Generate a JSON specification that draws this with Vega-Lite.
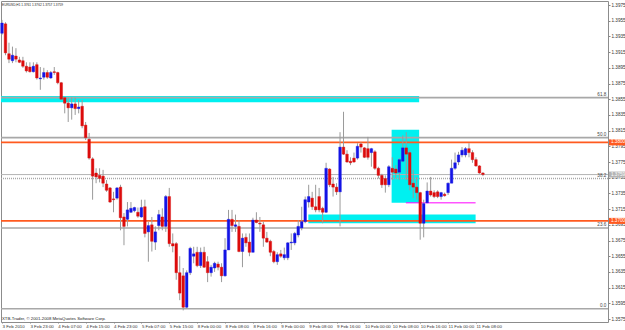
{
  "$schema": "https://vega.github.io/schema/vega-lite/v6.json",
  "width": 607,
  "height": 321,
  "autosize": {"type": "none"},
  "padding": {"left": 1, "top": 1, "right": 17, "bottom": 8},
  "background": "white",
  "config": {
    "view": {"stroke": "#8c8c8c", "strokeWidth": 1},
    "axis": {"labelFont": "Liberation Sans", "grid": false, "domain": false, "labelOverlap": false, "labelFlush": false, "labelBound": false, "tickCount": 1000},
    "scale": {"continuousPadding": 0},
    "text": {"font": "Liberation Sans"}
  },
  "datasets": {
    "candles": [
      {"i":0,"o":1.3939,"h":1.3956,"l":1.3937,"c":1.3952},
      {"i":1,"o":1.3951,"h":1.3953,"l":1.3911,"c":1.3914},
      {"i":2,"o":1.3913,"h":1.3927,"l":1.3901,"c":1.3906},
      {"i":3,"o":1.3904,"h":1.3922,"l":1.3901,"c":1.3911},
      {"i":4,"o":1.3910,"h":1.3920,"l":1.3902,"c":1.3906},
      {"i":5,"o":1.3905,"h":1.3909,"l":1.3901,"c":1.3902},
      {"i":6,"o":1.3904,"h":1.3909,"l":1.3895,"c":1.3897},
      {"i":7,"o":1.3897,"h":1.3902,"l":1.3889,"c":1.3891},
      {"i":8,"o":1.3896,"h":1.3902,"l":1.3889,"c":1.3890},
      {"i":9,"o":1.3890,"h":1.3902,"l":1.3889,"c":1.3897},
      {"i":10,"o":1.3899,"h":1.3902,"l":1.3880,"c":1.3882},
      {"i":11,"o":1.3881,"h":1.3896,"l":1.3867,"c":1.3882},
      {"i":12,"o":1.3883,"h":1.3895,"l":1.3880,"c":1.3889},
      {"i":13,"o":1.3889,"h":1.3892,"l":1.3881,"c":1.3883},
      {"i":14,"o":1.3882,"h":1.3891,"l":1.3881,"c":1.3889},
      {"i":15,"o":1.3890,"h":1.3896,"l":1.3886,"c":1.3889},
      {"i":16,"o":1.3889,"h":1.3890,"l":1.3874,"c":1.3876},
      {"i":17,"o":1.3876,"h":1.3877,"l":1.3854,"c":1.3855},
      {"i":18,"o":1.3857,"h":1.3858,"l":1.3837,"c":1.3850},
      {"i":19,"o":1.3850,"h":1.3857,"l":1.3826,"c":1.3844},
      {"i":20,"o":1.3844,"h":1.3857,"l":1.3829,"c":1.3849},
      {"i":21,"o":1.3849,"h":1.3857,"l":1.3835,"c":1.3843},
      {"i":22,"o":1.3843,"h":1.3854,"l":1.3837,"c":1.3845},
      {"i":23,"o":1.3846,"h":1.3854,"l":1.3818,"c":1.3821},
      {"i":24,"o":1.3822,"h":1.3826,"l":1.3803,"c":1.3806},
      {"i":25,"o":1.3804,"h":1.3812,"l":1.3778,"c":1.3780},
      {"i":26,"o":1.3779,"h":1.3781,"l":1.3727,"c":1.3757},
      {"i":27,"o":1.3761,"h":1.3767,"l":1.3748,"c":1.3756},
      {"i":28,"o":1.3758,"h":1.3767,"l":1.3749,"c":1.3754},
      {"i":29,"o":1.3757,"h":1.3765,"l":1.3743,"c":1.3748},
      {"i":30,"o":1.3747,"h":1.3752,"l":1.3737,"c":1.3739},
      {"i":31,"o":1.3742,"h":1.3743,"l":1.3723,"c":1.3724},
      {"i":32,"o":1.3728,"h":1.3737,"l":1.3711,"c":1.3727},
      {"i":33,"o":1.3729,"h":1.3743,"l":1.3727,"c":1.3742},
      {"i":34,"o":1.3743,"h":1.3746,"l":1.3688,"c":1.3704},
      {"i":35,"o":1.3705,"h":1.3710,"l":1.3669,"c":1.3693},
      {"i":36,"o":1.3702,"h":1.3724,"l":1.3693,"c":1.3714},
      {"i":37,"o":1.3711,"h":1.3724,"l":1.3710,"c":1.3716},
      {"i":38,"o":1.3713,"h":1.3718,"l":1.3711,"c":1.3717},
      {"i":39,"o":1.3711,"h":1.3717,"l":1.3704,"c":1.3706},
      {"i":40,"o":1.3705,"h":1.3727,"l":1.3704,"c":1.3717},
      {"i":41,"o":1.3718,"h":1.3727,"l":1.3679,"c":1.3684},
      {"i":42,"o":1.3686,"h":1.3699,"l":1.3648,"c":1.3694},
      {"i":43,"o":1.3695,"h":1.3705,"l":1.3661,"c":1.3674},
      {"i":44,"o":1.3673,"h":1.3693,"l":1.3663,"c":1.3686},
      {"i":45,"o":1.3694,"h":1.3714,"l":1.3688,"c":1.3708},
      {"i":46,"o":1.3705,"h":1.3716,"l":1.3688,"c":1.3693},
      {"i":47,"o":1.3693,"h":1.3733,"l":1.3686,"c":1.3731},
      {"i":48,"o":1.3731,"h":1.3742,"l":1.3667,"c":1.3671},
      {"i":49,"o":1.3671,"h":1.3684,"l":1.3660,"c":1.3668},
      {"i":50,"o":1.3671,"h":1.3673,"l":1.3625,"c":1.3634},
      {"i":51,"o":1.3634,"h":1.3655,"l":1.3599,"c":1.3608},
      {"i":52,"o":1.3630,"h":1.3640,"l":1.3586,"c":1.3590},
      {"i":53,"o":1.3590,"h":1.3637,"l":1.3588,"c":1.3634},
      {"i":54,"o":1.3634,"h":1.3667,"l":1.3631,"c":1.3665},
      {"i":55,"o":1.3655,"h":1.3667,"l":1.3646,"c":1.3658},
      {"i":56,"o":1.3660,"h":1.3667,"l":1.3641,"c":1.3643},
      {"i":57,"o":1.3643,"h":1.3666,"l":1.3640,"c":1.3660},
      {"i":58,"o":1.3660,"h":1.3667,"l":1.3640,"c":1.3641},
      {"i":59,"o":1.3648,"h":1.3655,"l":1.3622,"c":1.3634},
      {"i":60,"o":1.3634,"h":1.3644,"l":1.3629,"c":1.3641},
      {"i":61,"o":1.3640,"h":1.3648,"l":1.3635,"c":1.3646},
      {"i":62,"o":1.3645,"h":1.3648,"l":1.3637,"c":1.3641},
      {"i":63,"o":1.3641,"h":1.3646,"l":1.3622,"c":1.3630},
      {"i":64,"o":1.3630,"h":1.3678,"l":1.3629,"c":1.3663},
      {"i":65,"o":1.3663,"h":1.3714,"l":1.3663,"c":1.3702},
      {"i":66,"o":1.3702,"h":1.3714,"l":1.3686,"c":1.3694},
      {"i":67,"o":1.3693,"h":1.3708,"l":1.3686,"c":1.3695},
      {"i":68,"o":1.3693,"h":1.3701,"l":1.3660,"c":1.3661},
      {"i":69,"o":1.3661,"h":1.3684,"l":1.3641,"c":1.3678},
      {"i":70,"o":1.3679,"h":1.3684,"l":1.3667,"c":1.3672},
      {"i":71,"o":1.3673,"h":1.3684,"l":1.3655,"c":1.3660},
      {"i":72,"o":1.3660,"h":1.3704,"l":1.3660,"c":1.3701},
      {"i":73,"o":1.3701,"h":1.3711,"l":1.3697,"c":1.3698},
      {"i":74,"o":1.3697,"h":1.3705,"l":1.3686,"c":1.3696},
      {"i":75,"o":1.3695,"h":1.3699,"l":1.3667,"c":1.3678},
      {"i":76,"o":1.3678,"h":1.3686,"l":1.3672,"c":1.3673},
      {"i":77,"o":1.3674,"h":1.3676,"l":1.3655,"c":1.3660},
      {"i":78,"o":1.3661,"h":1.3663,"l":1.3646,"c":1.3648},
      {"i":79,"o":1.3648,"h":1.3660,"l":1.3644,"c":1.3657},
      {"i":80,"o":1.3658,"h":1.3663,"l":1.3653,"c":1.3655},
      {"i":81,"o":1.3653,"h":1.3666,"l":1.3650,"c":1.3657},
      {"i":82,"o":1.3653,"h":1.3673,"l":1.3650,"c":1.3672},
      {"i":83,"o":1.3672,"h":1.3684,"l":1.3663,"c":1.3673},
      {"i":84,"o":1.3672,"h":1.3686,"l":1.3669,"c":1.3684},
      {"i":85,"o":1.3682,"h":1.3701,"l":1.3679,"c":1.3693},
      {"i":86,"o":1.3691,"h":1.3718,"l":1.3688,"c":1.3699},
      {"i":87,"o":1.3699,"h":1.3731,"l":1.3697,"c":1.3727},
      {"i":88,"o":1.3724,"h":1.3746,"l":1.3717,"c":1.3731},
      {"i":89,"o":1.3729,"h":1.3737,"l":1.3714,"c":1.3718},
      {"i":90,"o":1.3718,"h":1.3746,"l":1.3711,"c":1.3714},
      {"i":91,"o":1.3731,"h":1.3742,"l":1.3711,"c":1.3714},
      {"i":92,"o":1.3716,"h":1.3718,"l":1.3697,"c":1.3711},
      {"i":93,"o":1.3711,"h":1.3774,"l":1.3710,"c":1.3767},
      {"i":94,"o":1.3766,"h":1.3767,"l":1.3743,"c":1.3746},
      {"i":95,"o":1.3747,"h":1.3756,"l":1.3731,"c":1.3743},
      {"i":96,"o":1.3743,"h":1.3748,"l":1.3733,"c":1.3737},
      {"i":97,"o":1.3737,"h":1.3813,"l":1.3693,"c":1.3794},
      {"i":98,"o":1.3794,"h":1.3839,"l":1.3784,"c":1.3785},
      {"i":99,"o":1.3785,"h":1.3790,"l":1.3774,"c":1.3775},
      {"i":100,"o":1.3776,"h":1.3781,"l":1.3771,"c":1.3774},
      {"i":101,"o":1.3780,"h":1.3787,"l":1.3774,"c":1.3775},
      {"i":102,"o":1.3780,"h":1.3799,"l":1.3778,"c":1.3795},
      {"i":103,"o":1.3798,"h":1.3800,"l":1.3787,"c":1.3794},
      {"i":104,"o":1.3793,"h":1.3794,"l":1.3780,"c":1.3781},
      {"i":105,"o":1.3792,"h":1.3807,"l":1.3778,"c":1.3781},
      {"i":106,"o":1.3787,"h":1.3793,"l":1.3769,"c":1.3792},
      {"i":107,"o":1.3788,"h":1.3790,"l":1.3765,"c":1.3767},
      {"i":108,"o":1.3767,"h":1.3769,"l":1.3754,"c":1.3758},
      {"i":109,"o":1.3758,"h":1.3760,"l":1.3742,"c":1.3746},
      {"i":110,"o":1.3754,"h":1.3758,"l":1.3736,"c":1.3746},
      {"i":111,"o":1.3746,"h":1.3771,"l":1.3743,"c":1.3769},
      {"i":112,"o":1.3767,"h":1.3781,"l":1.3752,"c":1.3762},
      {"i":113,"o":1.3766,"h":1.3771,"l":1.3754,"c":1.3761},
      {"i":114,"o":1.3762,"h":1.3780,"l":1.3752,"c":1.3778},
      {"i":115,"o":1.3776,"h":1.3809,"l":1.3775,"c":1.3793},
      {"i":116,"o":1.3793,"h":1.3813,"l":1.3752,"c":1.3785},
      {"i":117,"o":1.3787,"h":1.3790,"l":1.3739,"c":1.3746},
      {"i":118,"o":1.3748,"h":1.3765,"l":1.3729,"c":1.3743},
      {"i":119,"o":1.3743,"h":1.3756,"l":1.3727,"c":1.3736},
      {"i":120,"o":1.3736,"h":1.3737,"l":1.3676,"c":1.3697},
      {"i":121,"o":1.3697,"h":1.3727,"l":1.3679,"c":1.3722},
      {"i":122,"o":1.3723,"h":1.3749,"l":1.3723,"c":1.3738},
      {"i":123,"o":1.3738,"h":1.3756,"l":1.3731,"c":1.3733},
      {"i":124,"o":1.3736,"h":1.3739,"l":1.3729,"c":1.3731},
      {"i":125,"o":1.3737,"h":1.3739,"l":1.3729,"c":1.3731},
      {"i":126,"o":1.3731,"h":1.3737,"l":1.3727,"c":1.3736},
      {"i":127,"o":1.3734,"h":1.3736,"l":1.3731,"c":1.3732},
      {"i":128,"o":1.3736,"h":1.3749,"l":1.3733,"c":1.3748},
      {"i":129,"o":1.3748,"h":1.3778,"l":1.3748,"c":1.3767},
      {"i":130,"o":1.3767,"h":1.3787,"l":1.3765,"c":1.3774},
      {"i":131,"o":1.3775,"h":1.3788,"l":1.3771,"c":1.3784},
      {"i":132,"o":1.3784,"h":1.3794,"l":1.3781,"c":1.3790},
      {"i":133,"o":1.3784,"h":1.3794,"l":1.3781,"c":1.3792},
      {"i":134,"o":1.3792,"h":1.3799,"l":1.3781,"c":1.3787},
      {"i":135,"o":1.3787,"h":1.3790,"l":1.3774,"c":1.3778},
      {"i":136,"o":1.3778,"h":1.3781,"l":1.3769,"c":1.3770},
      {"i":137,"o":1.3770,"h":1.3771,"l":1.3760,"c":1.3761},
      {"i":138,"o":1.3761,"h":1.3762,"l":1.3757,"c":1.3759}
    ],
    "zones": [
      {"x1":-0.287,"x2":119.7,"p1":1.3859,"p2":1.3851},
      {"x1":111.8,"x2":119.7,"p1":1.3816,"p2":1.3723},
      {"x1":87.9,"x2":135.9,"p1":1.3708,"p2":1.3697}
    ],
    "fibo": [
      {"level":"61.8","p":1.3857,"dash":"solid"},
      {"level":"50.0","p":1.3806,"dash":"solid"},
      {"level":"38.2","p":1.3754,"dash":"dot"},
      {"level":"23.6","p":1.3691,"dash":"solid"},
      {"level":"0.0","p":1.3588,"dash":"solid"}
    ],
    "levels": [
      {"p":1.3800,"t":"1.3800","kind":"line"},
      {"p":1.3700,"t":"1.3700","kind":"line"},
      {"p":1.3759,"t":"1.3759","kind":"bid"}
    ],
    "support": [
      {"x1":115.9,"x2":135.9,"p":1.3723}
    ],
    "notes": [
      {"t":"EURUSD,H1  1.3761 1.3762 1.3757 1.3759","where":"top"},
      {"t":"XTB-Trader, © 2001-2008 MetaQuotes Software Corp.","where":"bottom"}
    ]
  },
  "layer": [
    {
      "data": {"name": "zones"},
      "mark": {"type": "rect", "color": "#00f0f0", "clip": true},
      "encoding": {
        "x": {"field": "x1", "type": "quantitative", "title": null,
          "scale": {"domain": [-0.287, 173.89], "nice": false, "zero": false, "padding": 0},
          "axis": {
            "values": [0,8,16,24,32,40,48,56,64,72,80,88,96,104,112,120,128,136],
            "tickCount": 1000,
            "labelExpr": "['3 Feb 2010','3 Feb 23:00','4 Feb 07:00','4 Feb 15:00','4 Feb 23:00','5 Feb 07:00','5 Feb 15:00','8 Feb 00:00','8 Feb 08:00','8 Feb 16:00','9 Feb 00:00','9 Feb 08:00','9 Feb 16:00','10 Feb 00:00','10 Feb 08:00','10 Feb 16:00','11 Feb 00:00','11 Feb 08:00'][round(datum.value/8)]",
            "labelAlign": "left", "labelFontSize": 4.4, "labelColor": "#333333",
            "tickSize": 1, "tickColor": "#888888", "labelPadding": 1,
            "labelFlush": false, "labelOverlap": false, "labelBaseline": "top"
          }
        },
        "x2": {"field": "x2"},
        "y": {"field": "p1", "type": "quantitative", "title": null,
          "scale": {"domain": [1.35712, 1.39801], "nice": false, "zero": false, "padding": 0},
          "axis": {
            "orient": "right",
            "values": [1.3575,1.3595,1.3615,1.3635,1.3655,1.3675,1.3695,1.3715,1.3735,1.3755,1.3775,1.3795,1.3815,1.3835,1.3855,1.3875,1.3895,1.3915,1.3935,1.3955,1.3975],
            "tickCount": 1000,
            "format": ".4f", "labelFontSize": 4.6, "labelColor": "#333333",
            "tickSize": 2, "tickColor": "#888888", "labelPadding": 1,
            "labelOverlap": false, "labelFlush": false
          }
        },
        "y2": {"field": "p2"}
      }
    },
    {
      "data": {"name": "fibo"},
      "mark": {"type": "rule", "color": "#a8a8a8", "strokeWidth": 1.6},
      "encoding": {
        "y": {"field": "p", "type": "quantitative", "title": null, "scale": {"domain": [1.35712, 1.39801], "nice": false, "zero": false, "padding": 0}},
        "strokeDash": {"field": "dash", "type": "nominal", "scale": {"domain": ["solid","dot"], "range": [[1,0],[1,1]]}, "legend": null}
      }
    },
    {
      "data": {"name": "levels"},
      "mark": {"type": "rule"},
      "encoding": {
        "y": {"field": "p", "type": "quantitative", "title": null, "scale": {"domain": [1.35712, 1.39801], "nice": false, "zero": false, "padding": 0}},
        "color": {"field": "kind", "type": "nominal", "scale": {"domain": ["line","bid"], "range": ["#ff5a1f","#b4b4b4"]}, "legend": null},
        "strokeWidth": {"field": "kind", "type": "nominal", "scale": {"domain": ["line","bid"], "range": [1.6, 1]}, "legend": null}
      }
    },
    {
      "data": {"name": "support"},
      "mark": {"type": "rule", "color": "#ff00ff", "strokeWidth": 1},
      "encoding": {
        "x": {"field": "x1", "type": "quantitative", "title": null, "scale": {"domain": [-0.287, 173.89], "nice": false, "zero": false, "padding": 0}},
        "x2": {"field": "x2"},
        "y": {"field": "p", "type": "quantitative", "title": null, "scale": {"domain": [1.35712, 1.39801], "nice": false, "zero": false, "padding": 0}}
      }
    },
    {
      "data": {"name": "candles"},
      "mark": {"type": "rule", "color": "#9a9a9a", "strokeWidth": 1},
      "encoding": {
        "x": {"field": "i", "type": "quantitative", "title": null, "scale": {"domain": [-0.287, 173.89], "nice": false, "zero": false, "padding": 0}},
        "y": {"field": "l", "type": "quantitative", "title": null, "scale": {"domain": [1.35712, 1.39801], "nice": false, "zero": false, "padding": 0}},
        "y2": {"field": "h"}
      }
    },
    {
      "data": {"name": "candles"},
      "mark": {"type": "bar", "width": 2.6, "strokeWidth": 0.4},
      "encoding": {
        "x": {"field": "i", "type": "quantitative", "title": null, "scale": {"domain": [-0.287, 173.89], "nice": false, "zero": false, "padding": 0}},
        "y": {"field": "o", "type": "quantitative", "title": null, "scale": {"domain": [1.35712, 1.39801], "nice": false, "zero": false, "padding": 0}},
        "y2": {"field": "c"},
        "color": {"condition": {"test": "datum.c > datum.o", "value": "#1414e6"}, "value": "#dc0c0c"},
        "stroke": {"condition": {"test": "datum.c > datum.o", "value": "#1414e6"}, "value": "#dc0c0c"}
      }
    },
    {
      "data": {"name": "fibo"},
      "mark": {"type": "text", "align": "right", "baseline": "bottom", "fontSize": 4.6, "color": "#444444", "dy": -0.6},
      "encoding": {
        "x": {"datum": 173.4, "type": "quantitative", "title": null, "scale": {"domain": [-0.287, 173.89], "nice": false, "zero": false, "padding": 0}},
        "y": {"field": "p", "type": "quantitative", "title": null, "scale": {"domain": [1.35712, 1.39801], "nice": false, "zero": false, "padding": 0}},
        "text": {"field": "level"}
      }
    },
    {
      "data": {"name": "levels"},
      "mark": {"type": "tick", "orient": "horizontal", "size": 16, "thickness": 6, "opacity": 1},
      "encoding": {
        "x": {"datum": 176.47, "type": "quantitative", "title": null, "scale": {"domain": [-0.287, 173.89], "nice": false, "zero": false, "padding": 0}},
        "y": {"field": "p", "type": "quantitative", "title": null, "scale": {"domain": [1.35712, 1.39801], "nice": false, "zero": false, "padding": 0}},
        "color": {"field": "kind", "type": "nominal", "scale": {"domain": ["line","bid"], "range": ["#ff5a1f","#000000"]}, "legend": null}
      }
    },
    {
      "data": {"name": "levels"},
      "mark": {"type": "text", "align": "left", "baseline": "middle", "fontSize": 4.6, "color": "white"},
      "encoding": {
        "x": {"datum": 174.75, "type": "quantitative", "title": null, "scale": {"domain": [-0.287, 173.89], "nice": false, "zero": false, "padding": 0}},
        "y": {"field": "p", "type": "quantitative", "title": null, "scale": {"domain": [1.35712, 1.39801], "nice": false, "zero": false, "padding": 0}},
        "text": {"field": "t"}
      }
    },
    {
      "data": {"name": "notes"},
      "transform": [{"filter": "datum.where == 'top'"}],
      "mark": {"type": "text", "align": "left", "baseline": "middle", "fontSize": 3.2, "color": "#222222"},
      "encoding": {
        "x": {"datum": 0.0, "type": "quantitative", "title": null, "scale": {"domain": [-0.287, 173.89], "nice": false, "zero": false, "padding": 0}},
        "y": {"datum": 1.39757, "type": "quantitative", "title": null, "scale": {"domain": [1.35712, 1.39801], "nice": false, "zero": false, "padding": 0}},
        "text": {"field": "t"}
      }
    },
    {
      "data": {"name": "notes"},
      "transform": [{"filter": "datum.where == 'bottom'"}],
      "mark": {"type": "text", "align": "left", "baseline": "middle", "fontSize": 4.3, "color": "#222222"},
      "encoding": {
        "x": {"datum": 0.0, "type": "quantitative", "title": null, "scale": {"domain": [-0.287, 173.89], "nice": false, "zero": false, "padding": 0}},
        "y": {"datum": 1.35756, "type": "quantitative", "title": null, "scale": {"domain": [1.35712, 1.39801], "nice": false, "zero": false, "padding": 0}},
        "text": {"field": "t"}
      }
    }
  ]
}
